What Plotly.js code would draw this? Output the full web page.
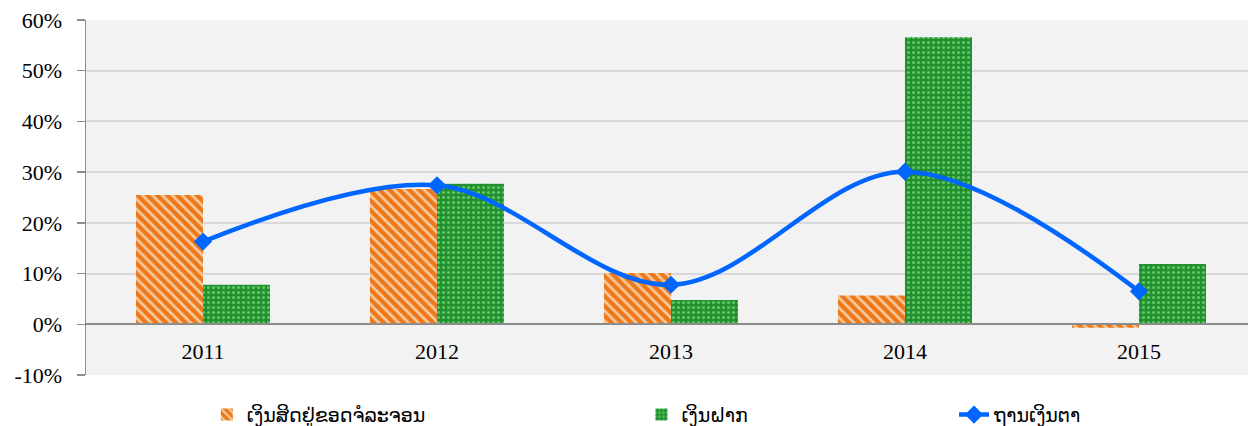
<!DOCTYPE html>
<html>
<head>
<meta charset="utf-8">
<script src="https://cdn.plot.ly/plotly-3.0.1.min.js"></script>
<style>html,body{margin:0;padding:0;background:#fff;}#chart{width:1248px;height:426px;}</style>
</head>
<body>
<div id="chart"></div>
<script>
var years = ['2011', '2012', '2013', '2014', '2015'];
var loans = [25.5, 26.7, 10.1, 5.7, -0.7];
var deposits = [7.8, 27.7, 4.8, 56.6, 11.9];
var money = [16.3, 27.4, 7.8, 30.1, 6.5];
var names = ['ເງິນສິດຢູ່ຂອດຈໍລະຈອນ', 'ເງິນຝາກ', 'ຖານເງິນຕາ'];
var yTickVals = [-10, 0, 10, 20, 30, 40, 50, 60];
var yTickText = yTickVals.map(function (v) { return (v < 0 ? '-' + Math.abs(v) : String(v)) + '%'; });

var serif = 'Liberation Serif, Times New Roman, serif';
var laoFont = 'DejaVu Sans, Noto Sans, sans-serif';

var traces = [
  {
    type: 'bar', x: years, y: loans, name: names[0], legend: 'legend',
    marker: {
      color: '#ee7d22',
      pattern: {shape: '\\', size: 7, solidity: 0.38, fgcolor: '#f9c99c', bgcolor: '#ec781a', fillmode: 'replace'},
      line: {width: 0}
    },
    hoverinfo: 'skip'
  },
  {
    type: 'bar', x: years, y: deposits, name: names[1], legend: 'legend2',
    marker: {
      color: '#2b9a3a',
      pattern: {shape: '.', size: 5, solidity: 0.3, fgcolor: '#5cc862', bgcolor: '#238f31', fillmode: 'replace'},
      line: {width: 0}
    },
    hoverinfo: 'skip'
  },
  {
    type: 'scatter', mode: 'lines+markers', x: years, y: money, name: names[2], legend: 'legend3',
    line: {color: '#0066ff', width: 4.5, shape: 'spline', smoothing: 1},
    marker: {symbol: 'diamond', size: 14, color: '#0066ff'},
    hoverinfo: 'skip'
  }
];

var legendBase = {orientation: 'h', yanchor: 'middle', xanchor: 'left', y: -0.112, bgcolor: 'rgba(0,0,0,0)',
  font: {family: laoFont, size: 19, color: '#000'}};

var layout = {
  width: 1248, height: 426,
  margin: {l: 86, r: 0, t: 20, b: 51, pad: 0, autoexpand: false},
  paper_bgcolor: '#ffffff',
  plot_bgcolor: '#f2f2f2',
  barmode: 'group',
  bargap: 0.427,
  bargroupgap: 0,
  xaxis: {
    type: 'category',
    range: [-0.5, 4.466],
    anchor: 'free', position: 1/7,
    showline: true, linecolor: '#8c8c8c', linewidth: 2,
    ticks: '', showgrid: false,
    tickfont: {family: serif, size: 22, color: '#000'},
    ticklabelstandoff: 7,
    fixedrange: true
  },
  yaxis: {
    range: [-10, 60], tickmode: 'array', tickvals: yTickVals, ticktext: yTickText,
    showline: true, linecolor: '#8c8c8c', linewidth: 1.5,
    ticks: 'outside', ticklen: 8, tickcolor: '#8c8c8c', tickwidth: 1.5,
    gridcolor: '#d9d9d9', gridwidth: 2,
    zeroline: false,
    tickfont: {family: serif, size: 22, color: '#000'},
    ticklabelstandoff: 10,
    fixedrange: true
  },
  showlegend: true,
  legend: Object.assign({}, legendBase, {x: 0.104}),
  legend2: Object.assign({}, legendBase, {x: 0.478}),
  legend3: Object.assign({}, legendBase, {x: 0.747})
};

Plotly.newPlot('chart', traces, layout, {displayModeBar: false, staticPlot: true});
</script>
</body>
</html>
